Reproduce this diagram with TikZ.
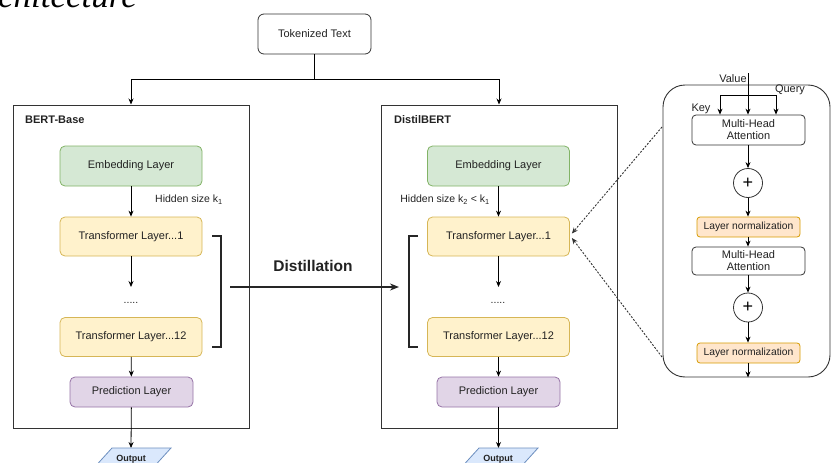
\documentclass[tikz,border=0pt]{standalone}
\usepackage{fontspec}
\setmainfont{Liberation Sans}
\newfontfamily\titlefont{Liberation Serif}
\usetikzlibrary{arrows.meta,calc}
\definecolor{gfill}{HTML}{D5E8D4}\definecolor{gdraw}{HTML}{82B366}
\definecolor{yfill}{HTML}{FFF2CC}\definecolor{ydraw}{HTML}{D6B656}
\definecolor{pfill}{HTML}{E1D5E7}\definecolor{pdraw}{HTML}{9673A6}
\definecolor{bfill}{HTML}{DAE8FC}\definecolor{bdraw}{HTML}{6C8EBF}
\definecolor{ofill}{HTML}{FFE6CC}\definecolor{odraw}{HTML}{D79B00}
\definecolor{txt}{HTML}{222222}
\definecolor{framec}{HTML}{333333}
\begin{document}
\begin{tikzpicture}[x=1pt,y=-1pt,
  layer/.style={draw, rounded corners=5pt, minimum width=142pt, minimum height=40pt, inner sep=0pt, font=\fontsize{11}{13}\selectfont, text=txt, line width=0.8pt},
  emb/.style={layer, fill=gfill, draw=gdraw},
  trf/.style={layer, fill=yfill, draw=ydraw, minimum height=39pt},
  pred/.style={layer, fill=pfill, draw=pdraw, minimum width=123pt, minimum height=30pt},
  frame/.style={draw=framec, line width=1pt, inner sep=0pt},
  arr/.style={-{Stealth[length=6pt,width=5pt]}, line width=0.8pt, draw=black},
  plain/.style={line width=0.8pt, draw=black},
  lbl/.style={font=\fontsize{10.5}{12}\selectfont, text=txt, inner sep=0pt},
  blbl/.style={font=\bfseries\fontsize{11}{13}\selectfont, text=txt, inner sep=0pt, anchor=west},
  outshape/.style={draw=bdraw, fill=bfill, line width=0.8pt},
  outlbl/.style={font=\bfseries\fontsize{9}{10}\selectfont, text=txt, inner sep=0pt},
  bracketline/.style={line width=1.8pt, draw=black!85},
  mha/.style={draw=framec, rounded corners=4pt, fill=white, minimum width=113pt, minimum height=30pt, inner sep=0pt, align=center, font=\fontsize{11}{12}\selectfont, text=txt, line width=0.8pt},
  lnorm/.style={draw=odraw, fill=ofill, rounded corners=3pt, minimum width=103pt, minimum height=20pt, inner sep=0pt, font=\fontsize{10.3}{12}\selectfont, text=txt, line width=0.8pt},
  addc/.style={draw=framec, circle, fill=white, minimum size=29pt, inner sep=0pt, font=\fontsize{18}{18}\selectfont, line width=0.8pt},
  dotarr/.style={-{Stealth[length=6pt,width=5pt]}, line width=0.9pt, densely dashed, dash pattern=on 2pt off 1.5pt, draw=black!80}
]
\useasboundingbox (0,0) rectangle (831,463);

% cropped caption
\node[anchor=base east, inner sep=0pt, font=\titlefont\itshape\fontsize{35}{35}\selectfont] (title) at (137,8) {Architecture};

% tokenized text
\node[draw=framec, rounded corners=6pt, minimum width=113pt, minimum height=40pt, inner sep=0pt, font=\fontsize{11}{13}\selectfont, text=txt, line width=0.8pt] (tok) at (314.5,34) {Tokenized Text};

% frames
\node[frame, minimum width=236pt, minimum height=323pt] (bert) at (131,266.5) {};
\node[frame, minimum width=236pt, minimum height=323pt] (distil) at (499,266.5) {};
\node[blbl] (bertlbl) at (25,120) {BERT-Base};
\node[blbl] (distillbl) at (394,120) {DistilBERT};

\coordinate (split) at (314.5,79);
\draw[arr] (tok.south) -- (split) -| (bert.north);
\draw[arr] (split) -| (distil.north);

% BERT-Base column
\node[emb] (emba) at (131,166) {Embedding Layer};
\node[trf] (tr1a) at (131,236.5) {Transformer Layer...1};
\node[trf] (tr12a) at (131,337) {Transformer Layer...12};
\node[pred] (preda) at (131.5,392) {Prediction Layer};
\node[lbl, anchor=west] (hsa) at (155,200) {Hidden size k\textsubscript{1}};
\node[lbl] (dotsa) at (131,303) {.....};
\coordinate (enda) at (131,287);
\coordinate (outtopa) at (131,448);
\draw[arr] (emba) -- (tr1a);
\draw[arr] (tr1a) -- (enda);
\draw[arr] (tr12a) -- (preda);
\draw[arr] (preda) -- (outtopa);
\draw[outshape] (112,448) -- (171,448) -- (151,470) -- (92,470) -- cycle;
\node[outlbl] (outa) at (131,459.5) {Output};
\draw[bracketline] (212,236) -- (221,236) -- (221,347) -- (212,347);

% DistilBERT column
\node[emb] (embb) at (498.5,166) {Embedding Layer};
\node[trf] (tr1b) at (498.5,236.5) {Transformer Layer...1};
\node[trf] (tr12b) at (498.5,337) {Transformer Layer...12};
\node[pred] (predb) at (498.5,392) {Prediction Layer};
\node[lbl, anchor=east] (hsb) at (490,200) {Hidden size k\textsubscript{2} < k\textsubscript{1}};
\node[lbl] (dotsb) at (498,303) {.....};
\coordinate (endb) at (498.5,287);
\coordinate (outtopb) at (498.5,448);
\draw[arr] (embb) -- (tr1b);
\draw[arr] (tr1b) -- (endb);
\draw[arr] (tr12b) -- (predb);
\draw[arr] (predb) -- (outtopb);
\draw[outshape] (479,448) -- (538,448) -- (518,470) -- (459,470) -- cycle;
\node[outlbl] (outb) at (498,459.5) {Output};
\draw[bracketline] (418,236) -- (409,236) -- (409,347) -- (418,347);

% distillation arrow
\node[font=\bfseries\fontsize{15.5}{17}\selectfont, text=txt, inner sep=0pt] (distlbl) at (313,266) {Distillation};
\coordinate (dstart) at (230,287);
\coordinate (dend) at (399,287);
\draw[-{Stealth[length=9pt,width=7pt]}, line width=1.6pt, draw=black!85] (dstart) -- (dend);

% right panel
\node[draw=framec, rounded corners=22pt, minimum width=167pt, minimum height=292pt, inner sep=0pt, line width=0.9pt] (panel) at (746.5,231) {};
\node[mha] (mha1) at (748.5,130) {Multi-Head\\Attention};
\node[addc] (add1) at (748,183) {+};
\node[lnorm] (ln1) at (748.5,227) {Layer normalization};
\node[mha, minimum height=28pt] (mha2) at (748.5,261) {Multi-Head\\Attention};
\node[addc] (add2) at (748,307.5) {+};
\node[lnorm] (ln2) at (748.5,353) {Layer normalization};

\coordinate (kq1) at (720,95);
\coordinate (kq2) at (776,95);
\coordinate (vtop) at (748,73);
\draw[plain] (kq1) -- (kq2);
\draw[arr] (kq1) -- (kq1|-mha1.north);
\draw[arr] (kq2) -- (kq2|-mha1.north);
\draw[arr] (vtop) -- (vtop|-mha1.north);
\node[lbl, font=\fontsize{11}{12}\selectfont] (vlbl) at (733,79) {Value};
\node[lbl, font=\fontsize{11}{12}\selectfont] (qlbl) at (790,90) {Query};
\node[lbl, font=\fontsize{11}{12}\selectfont] (klbl) at (701,109) {Key};

\draw[arr] (mha1.south -| add1) -- (add1);
\draw[arr] (add1) -- (add1|-ln1.north);
\draw[arr] (ln1.south -| add1) -- (add1|-mha2.north);
\draw[arr] (mha2.south -| add2) -- (add2);
\draw[arr] (add2) -- (add2|-ln2.north);
\draw[arr] (ln2.south -| add2) -- (add2|-panel.south);

% dashed connectors
\coordinate (dsa) at (662,127);
\coordinate (dsb) at (662,357);
\draw[dotarr] (dsa) -- ($(tr1b.east)+(2,-3)$);
\draw[dotarr] (dsb) -- ($(tr1b.east)+(2,1.5)$);
\end{tikzpicture}
\end{document}
